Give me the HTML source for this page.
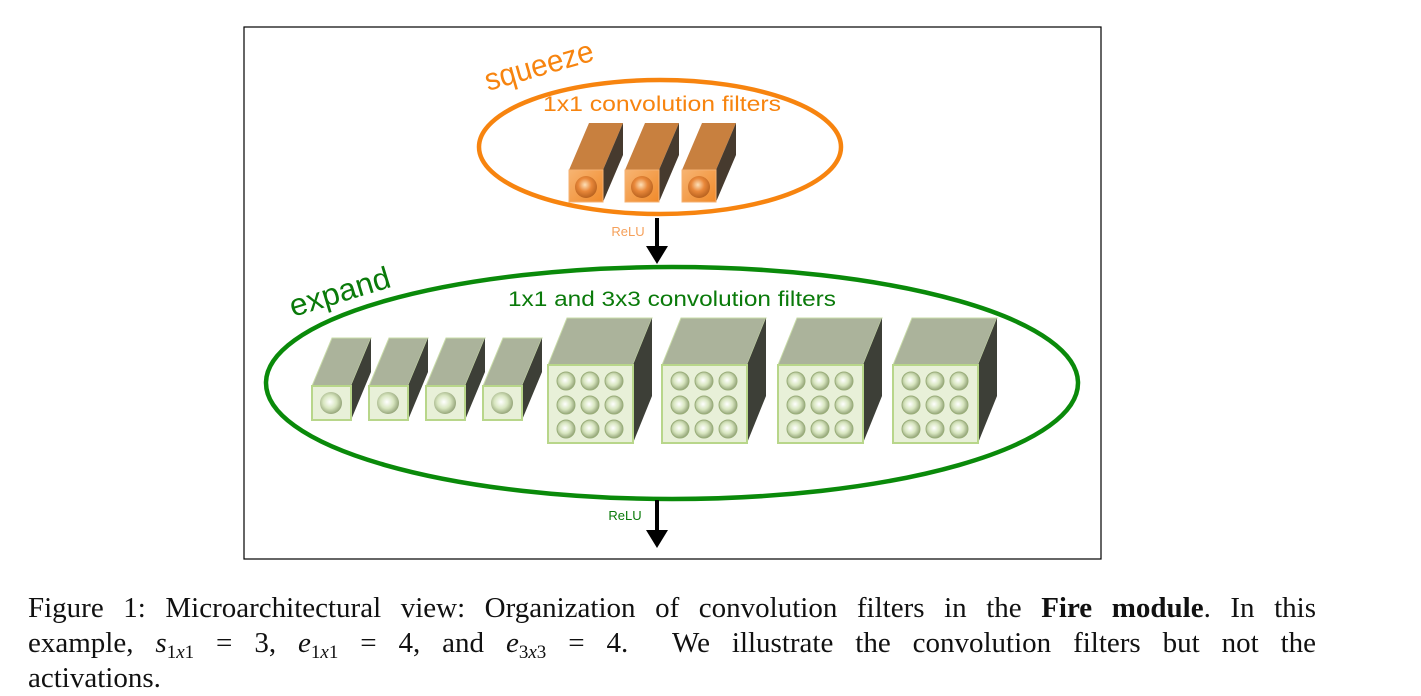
<!DOCTYPE html>
<html><head><meta charset="utf-8"><style>
body{margin:0;width:1421px;height:695px;background:#fff;overflow:hidden;position:relative}
svg{position:absolute;left:0;top:0}
.cap{position:absolute;left:28px;width:1288px;font-family:"Liberation Serif",serif;font-size:29px;color:#111;text-align:justify;text-align-last:justify;white-space:nowrap;line-height:35px}
.cap i{font-style:italic}
sub{font-size:19px;vertical-align:-6px;line-height:0}
</style></head><body>
<svg width="1421" height="695" viewBox="0 0 1421 695">
<defs>
<radialGradient id="ok" cx="0.45" cy="0.4" r="0.6"><stop offset="0" stop-color="#fde0b8"/><stop offset="0.5" stop-color="#e9883a"/><stop offset="1" stop-color="#b8621f"/></radialGradient>
<linearGradient id="of" x1="0" y1="0" x2="1" y2="1"><stop offset="0" stop-color="#f7b472"/><stop offset="1" stop-color="#f08a2a"/></linearGradient>
<radialGradient id="gk" cx="0.45" cy="0.45" r="0.6"><stop offset="0" stop-color="#ffffff"/><stop offset="0.5" stop-color="#d8e6c0"/><stop offset="1" stop-color="#8a9a6e"/></radialGradient>
</defs>
<rect x="244" y="27" width="857" height="532" fill="none" stroke="#000" stroke-width="1.2"/>
<ellipse cx="660" cy="147" rx="181" ry="67" fill="none" stroke="#f7840f" stroke-width="4.5"/>
<text x="0" y="0" transform="translate(488,91) rotate(-16)" font-family="Liberation Sans,sans-serif" font-size="31" fill="#f7840f" textLength="112" lengthAdjust="spacingAndGlyphs">squeeze</text>
<text x="543" y="111" font-family="Liberation Sans,sans-serif" font-size="21" fill="#f7840f" textLength="238" lengthAdjust="spacingAndGlyphs">1x1 convolution filters</text>
<g>
<polygon points="569,170 589,123 623,123 603,170" fill="#c8803f"/>
<polygon points="603,170 623,123 623,155 603,202" fill="#463a2e"/>
<rect x="569" y="170" width="34" height="32" fill="url(#of)" stroke="#f5b070"/>
<circle cx="586" cy="187" r="11" fill="url(#ok)"/>
</g>
<g>
<polygon points="625,170 645,123 679,123 659,170" fill="#c8803f"/>
<polygon points="659,170 679,123 679,155 659,202" fill="#463a2e"/>
<rect x="625" y="170" width="34" height="32" fill="url(#of)" stroke="#f5b070"/>
<circle cx="642" cy="187" r="11" fill="url(#ok)"/>
</g>
<g>
<polygon points="682,170 702,123 736,123 716,170" fill="#c8803f"/>
<polygon points="716,170 736,123 736,155 716,202" fill="#463a2e"/>
<rect x="682" y="170" width="34" height="32" fill="url(#of)" stroke="#f5b070"/>
<circle cx="699" cy="187" r="11" fill="url(#ok)"/>
</g>
<text x="628" y="236" text-anchor="middle" font-family="Liberation Sans,sans-serif" font-size="13" fill="#f5a05a">ReLU</text>
<line x1="657" y1="218" x2="657" y2="248" stroke="#000" stroke-width="4"/>
<polygon points="646,246 668,246 657,264" fill="#000"/>

<ellipse cx="672" cy="383" rx="406" ry="116" fill="none" stroke="#0a8a0a" stroke-width="4.5"/>
<text x="0" y="0" transform="translate(293,317) rotate(-17)" font-family="Liberation Sans,sans-serif" font-size="31" fill="#0a7a0a" textLength="104" lengthAdjust="spacingAndGlyphs">expand</text>
<text x="508" y="306" font-family="Liberation Sans,sans-serif" font-size="21" fill="#0a7a0a" textLength="328" lengthAdjust="spacingAndGlyphs">1x1 and 3x3 convolution filters</text>

<g>
<g><polygon points="312,386 332,338 371,338 351,386" fill="#abb39b" stroke="#c8dca8"/><polygon points="351,386 371,338 371,372 351,420" fill="#3d3f37"/><rect x="312" y="386" width="39" height="34" fill="#e8f0d8" stroke="#b8d68a" stroke-width="2"/><circle cx="331" cy="403" r="11" fill="url(#gk)"/></g>
<g><polygon points="369,386 389,338 428,338 408,386" fill="#abb39b" stroke="#c8dca8"/><polygon points="408,386 428,338 428,372 408,420" fill="#3d3f37"/><rect x="369" y="386" width="39" height="34" fill="#e8f0d8" stroke="#b8d68a" stroke-width="2"/><circle cx="388" cy="403" r="11" fill="url(#gk)"/></g>
<g><polygon points="426,386 446,338 485,338 465,386" fill="#abb39b" stroke="#c8dca8"/><polygon points="465,386 485,338 485,372 465,420" fill="#3d3f37"/><rect x="426" y="386" width="39" height="34" fill="#e8f0d8" stroke="#b8d68a" stroke-width="2"/><circle cx="445" cy="403" r="11" fill="url(#gk)"/></g>
<g><polygon points="483,386 503,338 542,338 522,386" fill="#abb39b" stroke="#c8dca8"/><polygon points="522,386 542,338 542,372 522,420" fill="#3d3f37"/><rect x="483" y="386" width="39" height="34" fill="#e8f0d8" stroke="#b8d68a" stroke-width="2"/><circle cx="502" cy="403" r="11" fill="url(#gk)"/></g>
</g>

<g id="L1" transform="translate(548,365)">
<polygon points="0,0 19,-47 104,-47 85,0" fill="#abb39b" stroke="#c8dca8"/>
<polygon points="85,0 104,-47 104,31 85,78" fill="#3d3f37"/>
<rect x="0" y="0" width="85" height="78" fill="#e8f0d8" stroke="#b8d68a" stroke-width="2"/>
<g fill="url(#gk)" stroke="#9aae7a" stroke-width="1">
<circle cx="18" cy="16" r="9"/><circle cx="42" cy="16" r="9"/><circle cx="66" cy="16" r="9"/>
<circle cx="18" cy="40" r="9"/><circle cx="42" cy="40" r="9"/><circle cx="66" cy="40" r="9"/>
<circle cx="18" cy="64" r="9"/><circle cx="42" cy="64" r="9"/><circle cx="66" cy="64" r="9"/>
</g>
</g>
<use href="#L1" transform="translate(114,0)"/>
<use href="#L1" transform="translate(230,0)"/>
<use href="#L1" transform="translate(345,0)"/>

<text x="625" y="520" text-anchor="middle" font-family="Liberation Sans,sans-serif" font-size="13" fill="#0a7a0a">ReLU</text>
<line x1="657" y1="500" x2="657" y2="532" stroke="#000" stroke-width="4"/>
<polygon points="646,530 668,530 657,548" fill="#000"/>
</svg>
<div class="cap" style="top:591px">Figure 1: Microarchitectural view: Organization of convolution filters in the <b>Fire module</b>. In this</div>
<div class="cap" style="top:626px">example, <i>s</i><sub>1<i>x</i>1</sub> = 3, <i>e</i><sub>1<i>x</i>1</sub> = 4, and <i>e</i><sub>3<i>x</i>3</sub> = 4. &nbsp;We illustrate the convolution filters but not the</div>
<div class="cap" style="top:661px;text-align-last:left">activations.</div>
</body></html>
